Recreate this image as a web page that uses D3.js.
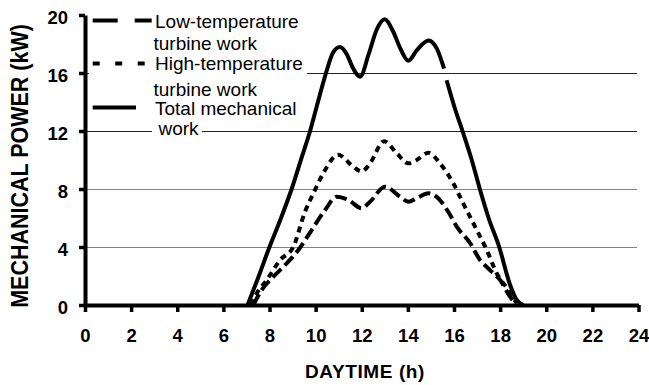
<!DOCTYPE html>
<html>
<head>
<meta charset="utf-8">
<script src="https://cdn.jsdelivr.net/npm/d3@7"></script>
<style>
  html, body { margin: 0; padding: 0; background: #fff; }
  svg { display: block; }
  text { font-family: "Liberation Sans", Arial, Helvetica, sans-serif; }
</style>
</head>
<body>
<svg id="chart" width="649" height="385"></svg>
<script>
// Daily mechanical power of the turbines (hour of day, kW)
const lowTempHours = [7.3, 7.66, 8.17, 8.75, 9.25, 9.83, 10.41, 10.91, 11.42, 12.0, 12.36, 13.01, 13.66, 14.02, 14.38, 14.89, 15.39, 15.75, 16.12, 16.7, 17.13, 17.56, 18.0, 18.43, 18.65];
const lowTempKW    = [0, 1.03, 1.95, 2.88, 3.79, 5.17, 6.55, 7.47, 7.24, 6.67, 7.12, 8.16, 7.47, 7.12, 7.36, 7.7, 7.24, 6.43, 5.4, 4.26, 3.1, 2.41, 1.72, 0.57, 0.1];

const highTempHours = [7.2, 7.45, 7.88, 8.46, 9.03, 9.54, 9.97, 10.33, 10.98, 11.63, 12.0, 12.36, 12.97, 13.52, 14.02, 14.38, 14.89, 15.39, 15.97, 16.4, 17.06, 17.42, 17.85, 18.36, 18.72];
const highTempKW    = [0, 0.81, 1.72, 3.1, 4.0, 6.43, 7.93, 9.08, 10.36, 9.54, 9.2, 9.77, 11.3, 10.46, 9.77, 10.0, 10.5, 9.77, 8.39, 7.01, 4.94, 3.79, 2.19, 1.03, 0.1];

// null marks the short break in the total curve
const totalHours = [7.05, 7.5, 8.0, 8.5, 8.96, 9.4, 9.76, 10.1, 10.45, 10.75, 11.05, 11.35, 11.6, 11.93, 12.3, 12.65, 13.0, 13.35, 13.7, 14.02, 14.4, 14.9, 15.25, 15.57, 15.62, 15.68, 16.05, 16.4, 16.77, 17.12, 17.5, 17.96, 18.43, 18.7, 19.0];
const totalKW    = [0, 1.85, 4.0, 6.0, 8.0, 10.2, 12.0, 14.0, 16.0, 17.4, 17.8, 17.3, 16.4, 15.75, 17.3, 19.0, 19.7, 18.9, 17.6, 16.85, 17.6, 18.25, 17.7, 16.3, null, 15.5, 13.5, 11.85, 10.0, 8.0, 6.0, 4.0, 1.4, 0.4, 0];

const xTicks = [0, 2, 4, 6, 8, 10, 12, 14, 16, 18, 20, 22, 24];
const yTicks = [0, 4, 8, 12, 16, 20];
const gridValues = [4, 8, 12, 16];

const legendLabels = [
  ["Low-temperature", "turbine work"],
  ["High-temperature", "turbine work"],
  ["Total mechanical", "work"]
];

const svg = d3.select("#chart");

const x = d3.scaleLinear().domain([0, 24]).range([85, 638.5]);
const y = d3.scaleLinear().domain([0, 20]).range([305, 15]);

// horizontal grid lines
svg.append("g")
  .selectAll("line")
  .data(gridValues)
  .join("line")
  .attr("x1", x(0))
  .attr("x2", x(24) - 1.5)
  .attr("y1", d => Math.round(y(d)) + 0.5)
  .attr("y2", d => Math.round(y(d)) + 0.5)
  .attr("stroke", d => d >= 12 ? "#222" : "#808080")
  .attr("stroke-width", 1);

// legend block (white backing hides the grid behind the text)
const legend = svg.append("g");
legend.append("rect")
  .attr("x", 89).attr("y", 6).attr("width", 218).attr("height", 118)
  .attr("fill", "#fff");
legend.append("rect")
  .attr("x", 152).attr("y", 122).attr("width", 50).attr("height", 18)
  .attr("fill", "#fff");

const legendStyles = [
  { dash: "25,17", y: 20.5 },
  { dash: "7,15.5", y: 63.5 },
  { dash: null, y: 107.5 }
];
const legendSampleEnds = [151.7, 145.5, 136];
const textRows = [[28.3, 50], [70, 95.7], [115, 135]];
const textX = [[155, 153.5], [155, 153.5], [155, 158.5]];

legendLabels.forEach((lines, i) => {
  legend.append("line")
    .attr("x1", 92.7).attr("x2", legendSampleEnds[i])
    .attr("y1", legendStyles[i].y).attr("y2", legendStyles[i].y)
    .attr("stroke", "#000").attr("stroke-width", 4.2)
    .attr("stroke-dasharray", legendStyles[i].dash);
  lines.forEach((t, j) => {
    legend.append("text")
      .attr("x", textX[i][j]).attr("y", textRows[i][j])
      .attr("font-size", "19px")
      .attr("fill", "#000")
      .text(t);
  });
});

// curves
const line = d3.line()
  .defined(d => d[1] !== null)
  .x(d => x(d[0]))
  .y(d => y(d[1]))
  .curve(d3.curveMonotoneX);

const series = [
  { hours: lowTempHours, kw: lowTempKW, dash: "12,5" },
  { hours: highTempHours, kw: highTempKW, dash: "6,5" },
  { hours: totalHours, kw: totalKW, dash: null }
];

svg.append("g")
  .selectAll("path")
  .data(series)
  .join("path")
  .attr("d", s => line(s.hours.map((h, i) => [h, s.kw[i]])))
  .attr("fill", "none")
  .attr("stroke", "#000")
  .attr("stroke-width", 4)
  .attr("stroke-linejoin", "round")
  .attr("stroke-dasharray", s => s.dash);

// axes
const xAxis = d3.axisBottom(x)
  .tickValues(xTicks)
  .tickFormat(d3.format("d"))
  .tickSizeInner(7)
  .tickSizeOuter(0)
  .tickPadding(16.5);

const yAxis = d3.axisLeft(y)
  .tickValues(yTicks)
  .tickFormat(d3.format("d"))
  .tickSizeInner(6)
  .tickSizeOuter(0)
  .tickPadding(11);

const gx = svg.append("g").attr("transform", `translate(0,${y(0)})`).call(xAxis);
const gy = svg.append("g").attr("transform", `translate(${x(0)},0)`).call(yAxis);

[gx, gy].forEach(g => {
  g.select(".domain").attr("stroke", "#000").attr("stroke-width", 4);
  g.selectAll(".tick line").attr("stroke", "#000").attr("stroke-width", 3.5);
  g.selectAll(".tick text")
    .attr("fill", "#000")
    .attr("font-size", "18.5px")
    .attr("font-weight", "bold")
    .attr("font-family", "'Liberation Sans', Arial, sans-serif");
});
gy.selectAll(".tick text").attr("dy", "0.45em");

// axis titles
svg.append("text")
  .attr("x", 365).attr("y", 378.3)
  .attr("text-anchor", "middle")
  .attr("font-size", "19px")
  .attr("font-weight", "bold")
  .attr("letter-spacing", "0.6px")
  .attr("fill", "#000")
  .text("DAYTIME (h)");

svg.append("text")
  .attr("transform", "translate(28.3,166) scale(1.12,1) rotate(-90)")
  .attr("text-anchor", "middle")
  .attr("font-size", "21.5px")
  .attr("font-weight", "bold")
  .attr("fill", "#000")
  .text("MECHANICAL POWER (kW)");
</script>
</body>
</html>
